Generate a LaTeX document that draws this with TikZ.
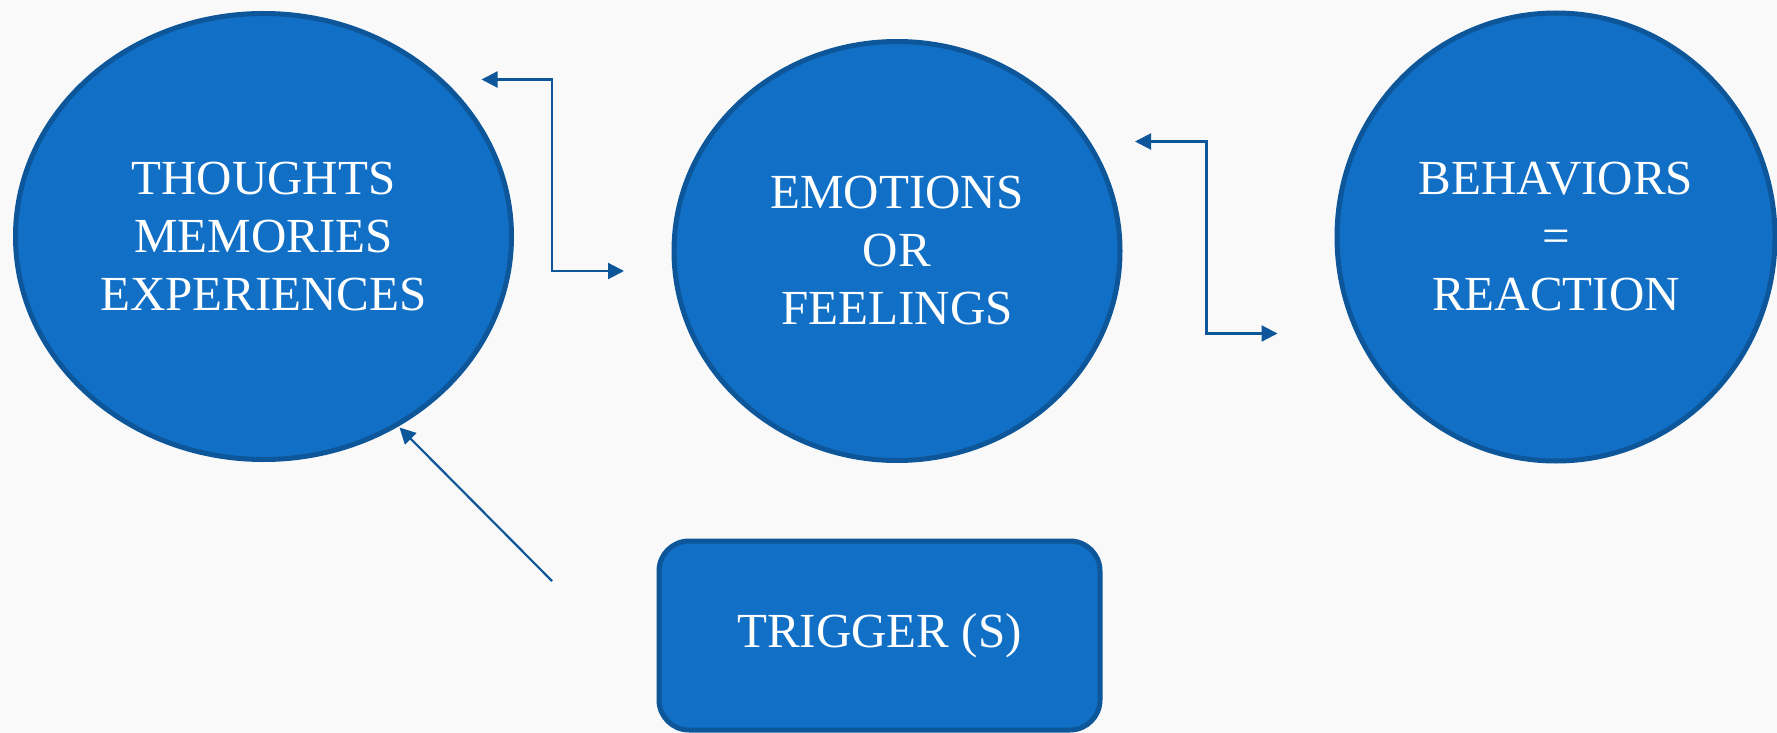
\documentclass[tikz,border=0pt]{standalone}
\usepackage{fontspec}
\setmainfont{Liberation Serif}
\usetikzlibrary{arrows.meta,shapes.geometric}
\definecolor{paper}{HTML}{F9F9F9}
\definecolor{bubble}{HTML}{1170C6}
\definecolor{rim}{HTML}{0C5699}

\begin{document}
\begin{tikzpicture}[x=0.5pt,y=-0.5pt,>={Triangle[length=8pt,width=8pt]},
  bubbletext/.style={text=white,align=center,
    font=\fontsize{24.5}{29}\selectfont},
  oval/.style={ellipse,bubbletext,fill=bubble,draw=rim,line width=2.5pt,
    inner sep=0pt},
  link/.style={draw=rim,line width=1.1pt}]
  \fill[paper] (0,0) rectangle (1777,733);
  \useasboundingbox (0,0) rectangle (1777,733);

  % Three stages
  \node[oval,minimum width=248pt,minimum height=223pt] (thoughts)
    at (263.5,236.5) {THOUGHTS\\MEMORIES\\EXPERIENCES};
  \node[oval,minimum width=223pt,minimum height=209.5pt] (emotions)
    at (897,251) {EMOTIONS\\OR\\FEELINGS};
  \node[oval,minimum width=219pt,minimum height=224pt] (behaviors)
    at (1556,237) {BEHAVIORS\\=\\REACTION};

  % Trigger box
  \node[bubbletext,fill=bubble,draw=rim,line width=2.5pt,rounded corners=15pt,
        minimum width=220.5pt,minimum height=94.5pt] (trigger)
    at (879.5,635.5) {TRIGGER (S)};

  % Free arrow ends
  \coordinate (thoughtsTip) at (481.5,79.5);
  \coordinate (bendA) at (552,175);
  \coordinate (emotionsTip) at (624,271);
  \coordinate (emotionsBack) at (1135,141.5);
  \coordinate (bendB) at (1206.5,240);
  \coordinate (behaviorsTip) at (1277.5,333.5);
  \coordinate (triggerTail) at (552,581);
  \coordinate (thoughtsIn) at (399.5,427.5);

  \draw[link,<->] (thoughtsTip) -| (bendA) |- (emotionsTip);
  \draw[link,<->] (emotionsBack) -| (bendB) |- (behaviorsTip);
  \draw[link,->] (triggerTail) -- (thoughtsIn);
\end{tikzpicture}
\end{document}
